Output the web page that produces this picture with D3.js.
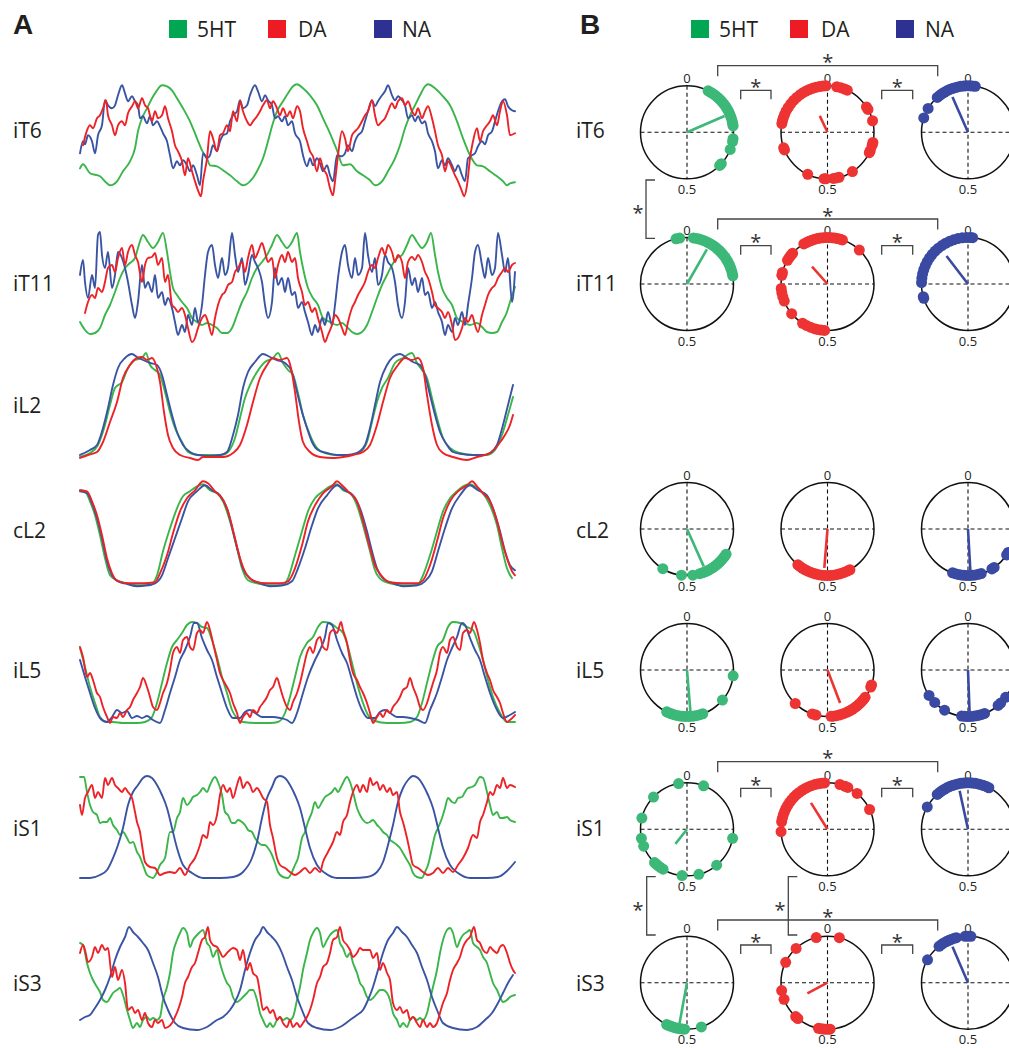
<!DOCTYPE html>
<html><head><meta charset="utf-8">
<script src="https://cdn.jsdelivr.net/npm/d3@7"></script>
<style>
body{margin:0;background:#fff}
svg{display:block}
text{font-family:"Open Sans","Noto Sans",sans-serif;fill:#231f20}
</style>
</head><body>
<svg id="c" width="1009" height="1048"></svg>
<script>
// ---------- categories ----------
const seriesNames = ["5HT","DA","NA"];
const legendColors = ["#00a651","#ed1c24","#2e3192"];
const traceColors = ["#3ab54a","#ed2227","#3a54a4"];
const dotColors = ["#3cb878","#ee3333","#3a4aa3"];
const traceRows = ["iT6","iT11","iL2","cL2","iL5","iS1","iS3"];
const phaseRows = ["iT6","iT11","cL2","iL5","iS1","iS3"];
const phaseTickLabels = ["0","0.5"];

// ---------- panel A traces: flat [time, level, time, level, ...] (time 0..435, level a.u.) ----------
const iT6_5HT = [0,30,3,34,10,25,20,22,27,15,30,13,37,17,43,27,50,37,55,50,58,67,62,80,67,90,72,100,77,108,82,113,87,112,92,108,97,100,103,90,110,77,117,60,122,48,127,40,130,33,137,32,143,28,150,23,157,17,163,13,170,17,177,27,183,40,188,57,192,72,197,87,203,97,208,105,213,112,217,114,223,110,230,103,237,93,243,80,250,65,257,48,263,33,270,34,277,27,283,23,290,18,295,13,302,17,308,27,315,40,320,53,325,70,330,83,335,93,340,103,345,112,348,114,355,110,362,103,370,93,377,77,383,60,390,43,397,33,403,32,410,27,417,22,423,17,427,13,430,15,435,16];
const iT6_DA = [3,53,7,68,10,73,13,70,17,80,20,83,23,90,26,98,28,83,32,73,35,63,38,73,42,77,45,73,48,85,52,92,55,97,58,90,62,100,65,93,68,90,72,77,75,87,78,80,82,83,85,92,88,80,92,67,95,53,98,47,102,37,105,23,108,40,112,27,115,17,118,8,121,2,123,17,127,40,130,67,133,60,137,47,140,63,143,65,147,73,150,67,153,87,157,77,160,97,163,87,167,77,170,73,173,77,177,82,180,87,183,93,187,98,190,90,193,97,197,90,200,83,203,90,207,82,210,87,213,80,217,92,220,87,223,70,227,57,230,47,233,42,237,27,240,40,243,30,247,23,250,10,253,3,255,17,258,43,262,67,265,60,268,47,272,63,275,67,278,70,282,77,285,83,288,87,292,98,295,83,298,73,302,77,305,80,308,87,312,95,315,90,318,97,322,100,325,93,328,97,332,87,335,83,338,90,342,80,345,87,348,92,352,80,355,67,358,53,362,43,365,27,368,37,372,30,375,23,378,17,382,7,384,2,387,13,390,40,393,57,397,70,400,57,403,67,407,73,410,77,413,83,417,73,420,87,423,97,427,83,430,63,435,65];
const iT6_NA = [0,45,3,57,5,54,8,63,12,57,15,45,18,63,22,73,25,98,28,93,32,90,35,93,38,103,42,113,45,105,48,97,52,102,55,97,58,93,60,80,63,82,67,75,70,82,73,73,77,77,80,72,83,65,87,57,90,43,93,30,97,37,100,33,103,38,107,33,110,27,113,33,117,23,120,13,123,45,127,40,130,43,133,53,137,47,140,57,143,63,147,65,150,77,153,83,157,87,160,98,163,90,167,93,170,103,175,113,178,107,182,97,185,103,188,98,192,93,195,80,198,82,202,77,205,82,208,73,212,77,215,65,220,57,223,43,227,32,230,40,233,33,237,40,240,35,243,27,247,33,250,23,253,17,257,43,262,42,265,45,268,53,272,47,275,57,278,63,282,67,285,77,288,87,292,98,295,92,298,97,302,103,305,107,308,113,312,103,315,98,318,102,322,98,325,93,328,80,332,83,335,77,338,82,342,75,345,77,348,65,352,57,355,47,358,30,362,38,365,33,368,40,372,33,375,27,378,33,382,23,385,17,388,40,392,43,395,45,398,52,402,57,405,54,408,63,412,67,415,77,418,87,422,97,425,99,428,92,432,88,435,87];

const iT11_5HT = [0,23,5,15,10,11,15,12,20,17,25,30,30,40,35,53,40,67,45,77,50,82,55,87,58,97,63,110,68,103,73,97,78,103,83,112,87,93,90,73,93,57,97,50,102,43,107,37,112,27,117,23,122,20,127,22,132,20,137,17,142,12,147,12,152,17,157,30,162,43,167,53,172,67,177,77,182,83,187,90,192,100,197,110,202,103,207,97,212,103,217,112,220,93,223,77,228,57,233,47,238,40,243,27,250,23,257,20,262,22,267,18,272,13,277,11,282,13,287,20,292,33,297,47,302,60,307,70,312,80,317,87,322,90,327,100,332,110,337,103,342,97,347,103,351,112,355,90,358,73,362,57,367,47,372,40,377,27,383,23,390,20,397,22,402,18,407,13,412,12,417,13,422,23,427,33,430,43,435,58];
const iT11_DA = [5,32,8,43,12,50,15,47,18,57,22,53,25,63,28,77,32,80,35,73,38,87,42,97,45,80,48,93,52,100,55,90,58,83,62,63,65,80,68,87,72,88,75,92,78,80,82,87,85,63,88,70,92,40,95,37,98,33,102,37,105,30,108,17,112,3,115,7,118,17,122,27,125,30,128,23,132,10,135,27,138,40,142,50,145,53,148,60,152,63,155,73,158,77,162,83,165,73,168,87,172,100,175,87,178,93,182,102,185,93,188,83,192,87,195,67,198,80,202,90,205,83,208,93,212,83,215,87,218,67,222,53,225,40,228,43,232,33,235,37,238,27,242,13,245,3,248,10,252,20,255,30,258,27,262,17,265,10,268,23,272,37,275,43,278,50,282,57,285,63,288,73,292,80,295,77,298,87,302,97,305,90,308,100,312,93,315,83,318,90,322,83,325,67,328,83,332,88,335,85,338,90,342,83,345,73,348,67,352,53,355,40,358,37,362,33,365,27,368,33,372,20,375,5,378,7,382,17,385,27,388,23,392,30,395,20,398,13,402,30,405,40,408,50,412,57,415,60,418,67,422,73,425,77,428,73,432,80,435,82];
const iT11_NA = [0,70,3,85,5,63,8,47,12,70,15,57,18,110,20,113,22,90,25,77,28,93,32,57,35,70,38,93,42,87,45,77,48,63,52,40,55,27,58,43,62,80,65,57,68,63,72,53,75,70,78,47,82,53,85,40,88,47,92,37,95,23,98,10,102,20,105,13,108,30,112,20,115,37,118,23,122,40,125,70,128,93,132,100,135,80,138,67,142,87,145,70,148,77,152,112,155,90,158,73,162,87,165,60,168,70,172,90,175,83,178,77,182,63,185,40,188,27,192,43,195,77,198,60,202,67,205,53,208,67,212,50,215,53,218,37,222,43,225,33,228,23,232,10,235,20,238,13,242,27,245,20,248,33,252,20,255,40,258,67,262,93,265,100,268,80,272,67,275,87,278,70,282,77,285,112,288,90,292,73,295,87,298,60,302,70,305,90,308,83,312,77,315,63,318,40,322,27,325,43,328,77,332,60,335,67,338,53,342,67,345,50,348,53,352,37,355,43,358,33,362,23,365,10,368,20,372,13,375,27,378,20,382,33,385,20,388,40,392,67,395,93,398,100,402,80,405,67,408,87,412,70,415,77,418,112,422,90,425,73,428,87,432,43,435,73];

const iL2_5HT = [0,3,10,7,18,15,25,35,30,55,35,72,42,78,48,92,55,100,62,102,66,107,70,95,75,90,80,85,85,68,90,48,95,32,102,18,108,8,117,5,130,5,142,5,148,8,155,22,160,42,165,62,170,75,177,88,185,98,193,102,198,107,203,97,208,90,213,85,218,67,223,45,230,25,237,12,245,7,257,5,270,5,280,8,287,18,292,38,297,58,302,72,308,82,315,97,323,102,332,107,337,97,342,90,347,82,352,62,357,42,363,22,370,12,380,7,393,5,407,5,415,10,422,25,428,45,433,63];
const iL2_DA = [0,2,8,5,17,8,23,18,30,38,37,58,43,82,50,95,57,102,62,103,67,100,72,102,76,95,80,78,84,48,88,25,93,12,100,5,110,2,118,0,123,3,133,3,143,3,153,7,160,15,167,35,173,58,180,82,187,95,193,102,200,100,207,102,211,92,215,68,219,38,223,18,230,8,240,3,253,2,263,3,273,5,283,8,290,15,297,35,303,58,310,82,318,95,325,102,332,100,338,102,343,92,347,65,352,35,357,15,363,7,373,3,387,0,397,3,410,7,418,15,425,25,430,35,433,45];
const iL2_NA = [0,5,10,10,17,15,23,32,28,52,33,75,38,92,45,102,52,106,57,103,63,100,70,97,77,95,82,85,87,65,92,45,97,28,103,15,110,8,118,5,130,4,140,5,147,8,153,25,158,45,163,72,168,88,175,98,183,106,190,103,197,100,205,97,212,88,217,68,222,48,227,32,232,18,238,10,247,7,257,5,267,5,277,7,285,15,290,32,295,55,300,78,307,95,313,103,320,106,327,102,333,98,340,95,345,85,350,65,355,45,360,28,367,15,373,8,382,6,393,5,403,5,410,7,417,15,423,35,428,55,433,75];

const cL2_5HT = [0,98,5,97,10,87,15,73,20,53,25,30,30,13,37,8,47,5,60,3,70,3,77,13,83,37,90,60,97,80,103,92,110,97,117,102,123,104,130,98,137,95,143,87,150,67,157,40,162,20,168,8,177,5,190,3,202,3,208,10,215,33,222,57,228,77,235,90,243,97,250,102,257,104,263,98,270,95,277,83,283,63,290,37,295,18,302,8,310,5,323,3,337,3,343,13,350,33,357,57,363,77,370,90,377,97,383,102,390,104,397,100,403,95,410,83,417,63,422,40,427,20,432,10];
const cL2_DA = [0,98,7,97,12,87,17,73,22,53,27,30,32,15,38,7,50,5,63,5,75,6,80,15,87,33,93,55,100,77,107,90,115,98,123,107,128,105,135,97,142,90,148,77,155,50,160,30,167,13,175,7,187,5,200,5,208,7,215,20,222,43,228,67,235,83,243,95,252,102,257,107,262,103,268,97,277,87,283,67,290,40,295,23,302,12,310,6,323,5,337,5,343,8,350,23,357,47,363,70,370,87,378,97,387,103,392,107,397,102,403,95,410,87,417,67,422,47,427,30,432,17,435,13];
const cL2_NA = [0,97,7,95,12,85,17,70,22,50,27,27,32,13,38,7,48,4,57,2,67,3,75,5,82,13,88,30,95,50,102,70,108,87,117,97,125,103,132,98,140,93,147,80,153,57,158,37,163,20,170,10,180,5,190,2,203,3,212,7,218,20,225,40,232,63,238,80,247,93,257,103,265,98,273,93,280,80,287,57,292,37,297,20,303,10,313,5,323,2,337,3,345,7,352,17,358,37,365,60,372,80,380,93,390,103,398,98,407,93,413,80,420,57,425,37,430,23,435,18];

const iL5_5HT = [0,77,5,58,10,38,15,22,20,8,27,3,33,3,43,2,57,2,65,3,72,8,77,22,82,42,87,62,92,78,97,85,102,92,107,100,112,103,117,102,122,98,127,97,132,85,137,68,142,48,147,32,152,15,157,7,163,3,177,2,190,2,198,3,205,12,210,28,215,48,220,68,227,82,233,88,238,98,243,103,250,102,257,97,263,92,268,78,273,58,278,38,283,22,288,10,295,4,307,2,320,2,330,3,337,8,342,22,347,42,352,62,357,78,363,85,368,98,373,103,380,102,387,98,393,95,398,82,403,65,408,45,413,28,420,12,427,3,435,3];
const iL5_DA = [0,78,3,68,7,48,10,52,13,45,17,32,20,28,23,18,27,8,30,2,33,8,37,7,40,12,43,8,47,15,50,18,53,25,57,32,60,38,63,47,67,38,70,28,73,18,77,15,80,22,83,32,87,42,90,55,93,72,97,78,100,72,103,85,107,88,110,78,113,75,117,92,120,95,123,92,127,103,130,95,133,82,137,65,140,52,143,45,147,38,150,32,153,22,157,12,160,2,163,8,167,12,170,8,173,15,177,12,180,18,183,22,187,28,190,35,193,38,197,47,200,38,203,28,207,18,210,15,213,23,217,32,220,42,223,55,227,72,230,78,233,72,237,85,240,88,243,78,247,75,250,92,253,95,257,92,261,103,263,95,267,82,270,65,273,52,277,45,280,38,283,32,287,22,290,12,293,2,297,8,300,12,303,8,307,15,310,12,313,18,317,23,320,28,323,35,327,38,330,47,333,38,337,28,340,18,343,15,347,22,350,32,353,42,357,55,360,72,363,78,367,72,370,85,373,88,377,78,380,75,383,92,387,95,390,92,394,103,397,95,400,82,403,65,407,52,410,45,413,35,417,28,420,22,423,12,427,3,430,5,435,10];
const iL5_NA = [0,65,5,48,10,32,15,17,20,7,27,3,32,8,37,15,42,12,47,14,52,7,57,9,62,7,67,9,73,5,80,2,85,15,90,32,95,48,100,65,105,75,110,88,114,102,117,102,122,87,127,75,132,65,137,48,142,32,147,17,153,7,160,7,165,13,170,15,175,12,182,8,187,8,193,8,200,7,207,5,212,2,217,12,223,32,228,48,235,65,240,75,245,88,248,102,252,100,257,85,262,72,267,62,272,45,277,28,282,15,288,7,295,7,300,13,305,15,310,12,317,8,323,8,330,7,338,5,345,2,350,15,357,32,362,48,367,65,372,77,377,88,382,102,385,100,390,87,395,75,400,65,405,48,410,32,417,15,423,7,430,10,435,13];

const iS1_5HT = [0,103,4,103,7,88,10,75,13,68,17,65,20,57,23,58,27,58,30,62,33,55,37,50,40,45,43,48,47,42,50,37,53,38,57,28,60,23,63,15,67,5,70,3,73,2,77,8,80,15,85,22,90,48,93,48,97,62,100,68,103,82,107,75,110,78,113,83,117,85,120,88,123,92,127,88,130,95,135,103,138,98,142,85,145,68,148,65,152,57,155,57,158,60,162,58,165,55,168,50,172,48,175,42,178,38,182,35,185,35,188,32,192,25,195,17,198,8,203,3,208,2,212,8,215,15,218,22,222,42,225,48,228,58,232,68,235,78,238,72,242,78,245,83,248,85,252,88,255,92,258,88,262,95,267,103,270,98,273,88,277,72,280,65,283,60,287,57,290,58,293,60,297,55,300,52,303,48,307,45,310,40,313,38,317,35,320,32,323,27,327,20,330,15,333,7,337,3,342,2,345,8,348,15,352,32,355,45,358,52,362,62,365,72,368,82,372,78,375,77,378,82,382,83,385,88,388,92,392,93,395,95,400,103,403,102,407,88,410,75,413,65,417,68,420,62,423,62,427,63,430,60,435,58];
const iS1_DA = [0,75,2,65,5,82,8,88,12,95,15,82,18,88,22,82,25,102,28,95,32,102,35,95,38,92,42,88,45,92,48,88,52,82,55,68,57,58,60,48,62,35,65,18,70,13,75,12,80,5,85,7,90,8,95,7,100,12,105,5,110,15,115,22,120,35,123,45,127,42,130,58,133,55,137,65,140,85,143,95,147,88,150,92,153,82,157,95,160,103,163,92,167,98,170,95,173,88,177,92,180,88,183,82,187,78,190,55,193,42,197,22,200,15,205,12,210,8,215,5,220,8,225,12,230,7,235,12,240,8,243,18,248,28,253,38,257,48,260,45,263,58,267,65,270,78,273,88,277,95,280,88,283,95,287,88,290,102,293,95,297,98,300,90,303,95,307,88,310,92,313,85,317,88,320,68,323,58,327,42,330,28,333,15,338,12,343,8,348,5,353,7,358,12,363,7,368,12,373,8,378,15,383,22,388,32,393,45,397,42,400,58,403,65,407,78,410,88,413,85,417,95,420,92,423,102,427,92,430,95,435,93];
const iS1_NA = [0,2,10,2,20,5,27,10,33,22,38,35,43,52,48,75,53,88,58,95,63,102,67,104,72,102,77,95,82,85,87,72,92,52,97,32,103,15,112,7,123,2,140,2,153,3,163,8,172,22,177,38,182,62,187,82,192,93,196,102,200,104,205,102,210,95,215,85,220,72,225,52,230,32,237,15,245,7,257,2,273,2,287,3,297,8,303,18,308,35,313,55,318,78,323,92,328,100,333,104,338,102,343,95,348,85,353,72,358,52,363,32,370,15,378,7,390,2,407,2,418,3,427,9,435,18];

const iS3_5HT = [0,87,3,85,7,67,10,57,13,50,17,43,20,38,23,30,27,28,30,32,33,37,37,40,40,42,43,35,47,20,50,10,53,2,57,7,60,3,63,10,67,13,70,10,73,12,77,10,80,13,83,30,87,43,90,57,93,77,97,90,100,97,103,102,107,97,110,83,113,90,117,95,120,98,123,100,127,87,130,83,133,73,137,80,140,67,143,57,147,47,150,43,153,33,157,28,160,30,163,33,167,37,170,40,173,40,177,30,180,17,183,10,187,3,190,7,193,3,197,10,200,13,203,10,207,12,210,10,213,13,217,30,220,43,223,60,227,77,230,90,233,97,237,102,240,97,243,83,247,90,250,95,253,98,257,100,260,87,263,82,267,73,270,77,273,67,277,57,280,47,283,43,287,33,290,30,293,32,297,37,300,40,303,40,307,37,310,30,313,17,317,10,320,3,323,7,327,3,330,10,333,13,337,10,340,12,343,10,347,17,350,30,353,43,357,60,360,77,363,90,367,100,370,102,373,97,377,83,380,90,383,95,387,98,390,100,393,87,397,83,400,80,403,73,407,67,410,57,413,47,417,40,420,33,423,28,427,30,430,33,435,35];
const iS3_DA = [0,77,3,85,5,80,8,68,12,73,15,83,18,77,22,85,25,80,28,82,32,53,35,63,38,50,42,60,45,47,48,20,52,23,55,17,58,20,62,10,65,17,68,7,72,3,75,10,78,7,82,10,85,2,88,3,92,7,95,13,98,20,102,33,105,47,108,53,112,63,115,67,118,77,122,90,125,93,128,103,130,90,133,85,137,83,140,78,143,73,147,77,150,80,153,82,157,80,160,70,163,80,167,60,170,67,173,57,177,53,180,37,183,20,187,23,190,17,193,20,197,10,200,13,203,7,207,3,210,10,213,3,217,7,220,3,223,7,227,13,230,20,233,30,237,47,240,53,243,63,247,67,250,77,253,90,257,93,260,103,263,90,267,85,270,80,273,73,277,77,280,82,283,80,287,80,290,80,293,72,297,77,300,60,303,67,307,57,310,50,313,27,317,20,320,23,323,17,327,20,330,10,333,13,337,7,340,3,343,10,347,3,350,7,353,3,357,7,360,17,363,27,367,37,370,50,373,60,377,67,380,73,383,83,387,90,390,93,394,103,397,90,400,87,403,80,407,77,410,83,413,80,417,77,420,83,423,85,427,77,430,67,433,60,435,57];
const iS3_NA = [0,10,5,13,10,15,15,22,20,30,25,40,30,53,35,70,40,83,45,93,49,103,53,98,58,93,63,87,68,80,73,67,78,53,83,33,88,20,95,7,103,2,117,0,127,3,137,10,143,13,150,20,155,28,160,40,165,60,170,77,175,90,180,97,183,103,187,98,192,93,197,87,202,77,207,63,212,50,217,33,222,20,228,7,237,2,250,0,260,3,270,10,277,15,283,20,288,30,293,43,298,60,303,77,308,90,313,97,317,103,322,98,327,93,332,85,337,77,342,63,347,50,352,33,357,20,363,7,373,2,387,0,397,3,405,10,412,17,418,27,423,37,428,47,433,55];

// level range (a.u.) per row
const traceLevelMax = [115,113.3,106.7,107.3,103.3,105,104];

// ---------- panel B phases (fraction of cycle, 0 = top, clockwise) ----------
const dots_iT6_5HT = [0.075,0.085,0.095,0.105,0.115,0.125,0.135,0.145,0.155,0.165,0.175,0.185,0.195,0.205,0.215,0.222,0.228,0.272,0.282,0.31,0.368,0.376];
const dots_iT6_DA = [0.78,0.79,0.80,0.812,0.825,0.84,0.855,0.87,0.885,0.9,0.912,0.924,0.936,0.948,0.96,0.972,0.984,0.995,0.032,0.046,0.06,0.07,0.158,0.168,0.21,0.285,0.295,0.314,0.322,0.41,0.46,0.47,0.48,0.506,0.512,0.57,0.688,0.696];
const dots_iT6_NA = [0.80,0.836,0.885,0.895,0.905,0.915,0.925,0.935,0.945,0.955,0.965,0.975,0.985,0.995,0.005,0.015,0.025];
const dots_iT11_5HT = [0.962,0.975,0.022,0.032,0.042,0.052,0.062,0.072,0.082,0.092,0.102,0.112,0.122,0.132,0.142,0.152,0.162,0.172,0.182,0.192,0.202,0.212,0.222];
const dots_iT11_DA = [0.915,0.925,0.935,0.945,0.955,0.965,0.975,0.985,0.995,0.005,0.015,0.025,0.035,0.045,0.052,0.12,0.835,0.845,0.855,0.865,0.78,0.79,0.735,0.72,0.705,0.69,0.64,0.59,0.575,0.56,0.545,0.535,0.522,0.51];
const dots_iT11_NA = [0.755,0.77,0.785,0.80,0.815,0.83,0.845,0.86,0.875,0.89,0.905,0.92,0.935,0.95,0.965,0.98,0.995,0.008,0.016,0.70,0.706];
const dots_cL2_5HT = [0.587,0.519,0.48,0.456,0.446,0.436,0.426,0.416,0.406,0.396,0.386,0.376,0.366,0.356,0.348,0.341];
const dots_cL2_DA = [0.42,0.43,0.44,0.45,0.46,0.47,0.48,0.49,0.50,0.51,0.52,0.53,0.54,0.55,0.56,0.57,0.58,0.59,0.60,0.61];
const dots_cL2_NA = [0.454,0.464,0.474,0.484,0.494,0.504,0.514,0.524,0.534,0.544,0.554,0.414,0.405,0.344,0.334];
const dots_iL5_5HT = [0.27,0.362,0.445,0.455,0.465,0.475,0.485,0.495,0.505,0.515,0.525,0.535,0.545,0.555,0.565,0.572];
const dots_iL5_DA = [0.302,0.31,0.35,0.36,0.37,0.38,0.39,0.40,0.41,0.42,0.43,0.44,0.45,0.46,0.47,0.48,0.488,0.54,0.553,0.622];
const dots_iL5_NA = [0.658,0.627,0.584,0.442,0.452,0.462,0.472,0.482,0.492,0.502,0.512,0.522,0.388,0.376,0.35];
const dots_iS1_5HT = [0.971,0.058,0.872,0.789,0.719,0.691,0.281,0.39,0.459,0.517,0.586,0.596,0.606,0.616,0.623];
const dots_iS1_DA = [0.742,0.776,0.788,0.80,0.812,0.824,0.836,0.848,0.86,0.872,0.884,0.896,0.908,0.92,0.932,0.944,0.956,0.968,0.98,0.99,0.043,0.062,0.072,0.11,0.18];
const dots_iS1_NA = [0.83,0.885,0.895,0.905,0.915,0.925,0.935,0.945,0.955,0.965,0.975,0.985,0.995,0.005,0.015,0.025,0.035,0.045,0.055,0.065,0.074];
const dots_iS3_5HT = [0.508,0.516,0.524,0.532,0.54,0.548,0.556,0.564,0.572,0.45];
const dots_iS3_DA = [0.961,0.041,0.882,0.822,0.723,0.692,0.62,0.61,0.491,0.499,0.507,0.515,0.523,0.531];
const dots_iS3_NA = [0.832,0.893,0.903,0.913,0.923,0.933,0.943,0.953,0.96,0.99,0.0,0.01];

// mean vectors [phase, resultant length] for 5HT, DA, NA
const mean_iT6 = [[0.185,0.88],[0.93,0.39],[0.934,0.83]];
const mean_iT11 = [[0.083,0.86],[0.884,0.5],[0.896,0.76]];
const mean_cL2 = [[0.433,0.88],[0.513,0.84],[0.491,0.91]];
const mean_iL5 = [[0.487,0.9],[0.442,0.76],[0.494,0.89]];
const mean_iS1 = [[0.607,0.4],[0.911,0.67],[0.966,0.85]];
const mean_iS3 = [[0.529,0.96],[0.672,0.49],[0.935,0.84]];

// significance marks (rows with brackets)
const sigRows = ["iT6","iT11","iS1","iS3"];
const sigMark = "*";

// ---------- tables built from the arrays ----------
const traceData = {
  iT6:[iT6_5HT,iT6_DA,iT6_NA], iT11:[iT11_5HT,iT11_DA,iT11_NA], iL2:[iL2_5HT,iL2_DA,iL2_NA],
  cL2:[cL2_5HT,cL2_DA,cL2_NA], iL5:[iL5_5HT,iL5_DA,iL5_NA], iS1:[iS1_5HT,iS1_DA,iS1_NA], iS3:[iS3_5HT,iS3_DA,iS3_NA]
};
const dotData = {
  iT6:[dots_iT6_5HT,dots_iT6_DA,dots_iT6_NA], iT11:[dots_iT11_5HT,dots_iT11_DA,dots_iT11_NA],
  cL2:[dots_cL2_5HT,dots_cL2_DA,dots_cL2_NA], iL5:[dots_iL5_5HT,dots_iL5_DA,dots_iL5_NA],
  iS1:[dots_iS1_5HT,dots_iS1_DA,dots_iS1_NA], iS3:[dots_iS3_5HT,dots_iS3_DA,dots_iS3_NA]
};
const meanData = {iT6:mean_iT6,iT11:mean_iT11,cL2:mean_cL2,iL5:mean_iL5,iS1:mean_iS1,iS3:mean_iS3};
function pairs(a){const o=[];for(let i=0;i<a.length;i+=2)o.push([a[i],a[i+1]]);return o;}

// ---------- layout ----------
const svg = d3.select("#c");
const rowBox = {iT6:[198.3,83.3],iT11:[345,231.7],iL2:[460,353.3],cL2:[588.3,481],iL5:[725,621.7],iS1:[880,775],iS3:[1030,926]};
const labelY = {iT6:130,iT11:283,iL2:405,cL2:530,iL5:670,iS1:828,iS3:983};
const phaseCY = {iT6:132.3,iT11:284,cL2:529,iL5:670,iS1:829.3,iS3:982.7};
const colCX = [687,827.5,968];
const R = 46.5;

// panel letters
svg.append("text").attr("x",13).attr("y",34).text("A")
  .style("font-family","'Liberation Sans',Arial,sans-serif").style("font-weight","bold").style("font-size","28px");
svg.append("text").attr("x",580).attr("y",34).text("B")
  .style("font-family","'Liberation Sans',Arial,sans-serif").style("font-weight","bold").style("font-size","28px");

// legends
function legend(xs, txs){
  seriesNames.forEach((s,i)=>{
    svg.append("rect").attr("x",xs[i]).attr("y",20).attr("width",18).attr("height",18).attr("fill",legendColors[i]);
    svg.append("text").attr("x",txs[i]).attr("y",37).text(s).style("font-size","21px");
  });
}
legend([169,268,374],[197,298,402]);
legend([691,790,896],[719,821,925]);

// ---------- panel A ----------
const tx = d3.scaleLinear().domain([0,435]).range([80,515]);
const drawOrder = [0,2,1];
traceRows.forEach((row,ri)=>{
  svg.append("text").attr("x",13).attr("y",labelY[row]+7.5).text(row).style("font-size","21px");
  const y = d3.scaleLinear().domain([0,traceLevelMax[ri]]).range(rowBox[row]);
  const line = d3.line().x(d=>tx(d[0])).y(d=>y(d[1])).curve(d3.curveMonotoneX);
  drawOrder.forEach(si=>{
    svg.append("path").attr("d",line(pairs(traceData[row][si])))
      .attr("fill","none").attr("stroke",traceColors[si]).attr("stroke-width",1.9)
      .attr("stroke-linejoin","round").attr("stroke-linecap","round");
  });
});

// ---------- panel B ----------
const ang = d3.scaleLinear().domain([0,1]).range([0,2*Math.PI]);
const rad = d3.scaleLinear().domain([0,1]).range([0,R]);
phaseRows.forEach(row=>{
  const cy = phaseCY[row];
  svg.append("text").attr("x",576).attr("y",labelY[row]+7.5).text(row).style("font-size","21px");
  colCX.forEach((cx,si)=>{
    const g = svg.append("g");
    g.append("circle").attr("cx",cx).attr("cy",cy).attr("r",R).attr("fill","none").attr("stroke","#111").attr("stroke-width",1.5);
    g.append("line").attr("x1",cx-R).attr("x2",cx+R).attr("y1",cy).attr("y2",cy)
      .attr("stroke","#111").attr("stroke-width",1.1).attr("stroke-dasharray","4,3");
    g.append("line").attr("x1",cx).attr("x2",cx).attr("y1",cy-R).attr("y2",cy+R)
      .attr("stroke","#111").attr("stroke-width",1.1).attr("stroke-dasharray","4,3");
    g.append("text").attr("x",cx).attr("y",cy-R-3).attr("text-anchor","middle").text(phaseTickLabels[0]).style("font-size","13px");
    g.append("text").attr("x",cx).attr("y",cy+R+15).attr("text-anchor","middle").text(phaseTickLabels[1]).style("font-size","13px");
    g.selectAll("circle.dot").data(dotData[row][si]).join("circle").attr("class","dot")
      .attr("cx",p=>cx+rad(1)*Math.sin(ang(p))).attr("cy",p=>cy-rad(1)*Math.cos(ang(p)))
      .attr("r",5.5).attr("fill",dotColors[si]);
    const m = meanData[row][si];
    g.append("line").attr("x1",cx).attr("y1",cy)
      .attr("x2",cx+rad(m[1])*Math.sin(ang(m[0]))).attr("y2",cy-rad(m[1])*Math.cos(ang(m[0])))
      .attr("stroke",dotColors[si]).attr("stroke-width",2.6);
  });
});

// significance brackets
const bigOff = {iT6:66.6,iT11:65,iS1:67.6,iS3:62.7};
const smallOff = {iT6:42,iT11:38.3,iS1:41,iS3:37.7};
const bcol = "#444";
function star(x,cyy){
  svg.append("text").attr("x",x).attr("y",cyy+11).attr("text-anchor","middle").text(sigMark).style("font-size","20px").style("fill","#333");
}
function hb(x1,x2,yl,tick){
  svg.append("path").attr("d",`M${x1},${yl+tick}V${yl}H${x2}V${yl+tick}`)
    .attr("fill","none").attr("stroke",bcol).attr("stroke-width",1.3);
  star((x1+x2)/2, yl-7.5);
}
sigRows.forEach(row=>{
  const cy = phaseCY[row];
  hb(colCX[0]+30.7, colCX[2]-30.3, cy-bigOff[row], 10.5);
  hb(colCX[0]+53.7, colCX[0]+84, cy-smallOff[row], 9);
  hb(colCX[1]+54.2, colCX[1]+85.2, cy-smallOff[row], 9);
});
function vb(x, y1, y2, dir, sx){
  svg.append("path").attr("d",`M${x+dir*9},${y1}H${x}V${y2}H${x+dir*9}`)
    .attr("fill","none").attr("stroke",bcol).attr("stroke-width",1.3);
  star(sx,(y1+y2)/2);
}
vb(646,180,238.3,1,638);
vb(646.7,876.7,935,1,638);
vb(788.3,876.7,935,1,780);
</script>
</body></html>
